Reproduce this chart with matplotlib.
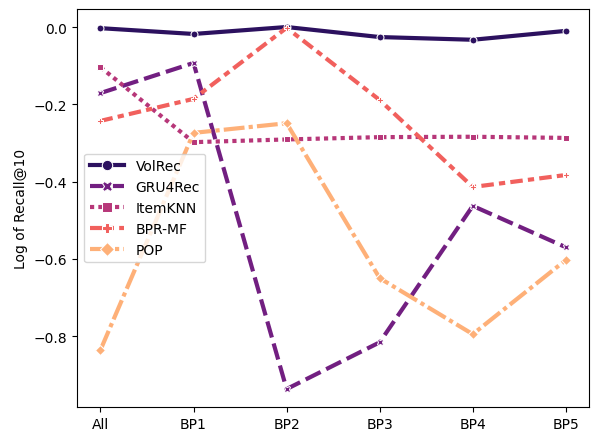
import numpy as np
import matplotlib

matplotlib.use("Agg")
import matplotlib.pyplot as plt

# data
periods = ["All", "BP1", "BP2", "BP3", "BP4", "BP5"]
volrec = [-0.003, -0.018, 0.0, -0.026, -0.033, -0.010]
gru4rec = [-0.171, -0.093, -0.937, -0.816, -0.463, -0.570]
itemknn = [-0.104, -0.298, -0.291, -0.285, -0.284, -0.287]
bprmf = [-0.243, -0.186, -0.002, -0.189, -0.414, -0.383]
pop = [-0.836, -0.274, -0.249, -0.650, -0.795, -0.603]

models = ["VolRec", "GRU4Rec", "ItemKNN", "BPR-MF", "POP"]
series = [volrec, gru4rec, itemknn, bprmf, pop]

# seaborn-like styling: magma palette, default dashes and markers
colors = plt.get_cmap("magma")(np.linspace(0, 1, len(models) + 2)[1:-1])
dashes = [(), (4, 1.5), (1, 1), (3, 1.25, 1.5, 1.25), (5, 1, 1, 1)]
markers = ["o", "X", "s", "P", "D"]

fig = plt.figure(figsize=(6.03, 4.31), dpi=100)
ax = fig.add_axes([0.128, 0.053, 0.849, 0.924])

x = np.arange(len(periods))
for name, vals, color, dash, marker in zip(models, series, colors, dashes, markers):
    line, = ax.plot(
        x,
        vals,
        color=color,
        linewidth=3,
        marker=marker,
        markersize=5,
        markeredgecolor="white",
        markeredgewidth=0.75,
        label=name,
    )
    if dash:
        line.set_dashes(dash)

ax.set_xticks(x)
ax.set_xticklabels(periods)
ax.set_ylabel("Log of Recall@10")
ax.legend(loc="center left", markerscale=1.5, handlelength=2.5)

fig.savefig("out.png", dpi=100)
